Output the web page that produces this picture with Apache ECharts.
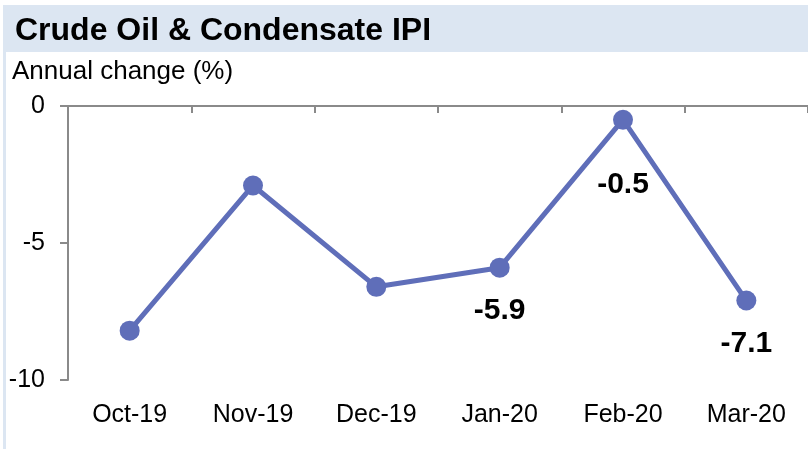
<!DOCTYPE html>
<html>
<head>
<meta charset="utf-8">
<script src="https://cdn.jsdelivr.net/npm/echarts@6/dist/echarts.min.js"></script>
<style>
  html, body { margin: 0; padding: 0; background: #fff; }
  #main { width: 808px; height: 449px; }
</style>
</head>
<body>
<div id="main"></div>
<script>
var myChart = echarts.init(document.getElementById('main'));

// data
var months = ['Oct-19', 'Nov-19', 'Dec-19', 'Jan-20', 'Feb-20', 'Mar-20'];
var ipiChange = [-8.2, -2.9, -6.6, -5.9, -0.5, -7.1];
var labelled = [false, false, false, true, true, true];

var font = 'Liberation Sans, Arial, sans-serif';
var lineColor = '#5f6eb9';
var axisColor = '#8a8a8a';

var seriesData = ipiChange.map(function (v, i) {
    var item = { value: v };
    if (labelled[i]) {
        item.label = {
            show: true,
            position: 'bottom',
            distance: v > -1 ? 40 : 18
        };
    }
    return item;
});

var option = {
    animation: false,
    textStyle: { fontFamily: font },
    graphic: [
        { type: 'rect', left: 3, top: 5, shape: { width: 805, height: 47 }, style: { fill: '#dce6f2' }, silent: true },
        { type: 'rect', left: 3, top: 52, shape: { width: 3, height: 397 }, style: { fill: '#dce6f2' }, silent: true },
        { type: 'text', left: 15, top: 15, style: { text: 'Crude Oil & Condensate IPI', font: 'bold 32px ' + font, fill: '#000' } },
        { type: 'text', left: 12, top: 59, style: { text: 'Annual change (%)', font: '26px ' + font, fill: '#000' } }
    ],
    grid: { left: 68, right: 0, top: 106, bottom: 69 },
    xAxis: [{
        type: 'category',
        data: months,
        position: 'bottom',
        axisLine: { show: false },
        axisTick: { show: false },
        axisLabel: { color: '#000', fontSize: 25, margin: 23 }
    }, {
        type: 'category',
        data: months,
        position: 'top',
        axisLine: { show: true, lineStyle: { color: axisColor, width: 2 } },
        axisTick: { show: true, inside: true, length: 7, lineStyle: { color: axisColor, width: 2 } },
        axisLabel: { show: false }
    }],
    yAxis: {
        type: 'value',
        min: -10,
        max: 0,
        interval: 5,
        axisLine: { show: true, lineStyle: { color: axisColor, width: 2 } },
        axisTick: { show: true, length: 8, lineStyle: { color: axisColor, width: 2 } },
        splitLine: { show: false },
        axisLabel: { color: '#000', fontSize: 25, margin: 23 }
    },
    series: [{
        type: 'line',
        data: seriesData,
        symbol: 'circle',
        symbolSize: 20,
        lineStyle: { color: lineColor, width: 5 },
        itemStyle: { color: lineColor },
        label: {
            color: '#000',
            fontSize: 30,
            fontWeight: 'bold',
            formatter: function (p) { return p.value.toFixed(1); }
        }
    }]
};

myChart.setOption(option);
</script>
</body>
</html>
